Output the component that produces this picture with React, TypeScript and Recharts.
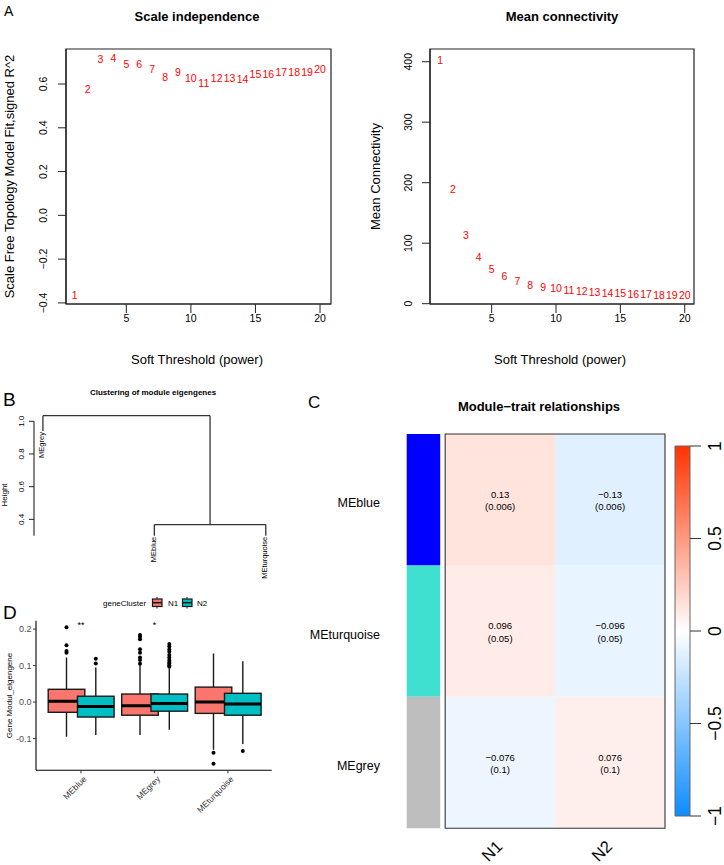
import React from 'react';
import {
  ComposedChart,
  Scatter,
  Bar,
  XAxis,
  YAxis,
  ReferenceArea,
  ReferenceLine,
  ReferenceDot,
} from 'recharts';

const FONT = '"Liberation Sans", Arial, Helvetica, sans-serif';
const INK = '#222';

// ---- Panel A: soft threshold scan ----
const powers = [1, 2, 3, 4, 5, 6, 7, 8, 9, 10, 11, 12, 13, 14, 15, 16, 17, 18, 19, 20];
const scaleFreeR2 = [-0.366, 0.575, 0.714, 0.717, 0.69, 0.691, 0.668, 0.633, 0.654, 0.627, 0.603, 0.627, 0.627, 0.622, 0.647, 0.647, 0.653, 0.654, 0.656, 0.667];
const meanConnectivity = [403, 190, 113, 76, 57, 45, 37, 31, 27.5, 25, 22.6, 21, 19.3, 17.6, 17, 15.4, 14.9, 14.3, 13.8, 13.2];
const powerTicks = [5, 10, 15, 20];
const r2Ticks = [-0.4, -0.2, 0, 0.2, 0.4, 0.6];
const kTicks = [0, 100, 200, 300, 400];

// ---- Panel B: eigengene dendrogram (hclust style merge table) ----
const leafNames = ['MEgrey', 'MEblue', 'MEturquoise'];
const leafHeights = [0.94, 0.3, 0.3];
const mergeLeft = [-2, -1];
const mergeRight = [-3, 1];
const mergeHeights = [0.368, 1.034];
const heightTicks = [0.3, 0.4, 0.5, 0.6, 0.7, 0.8, 0.9, 1.0];

// ---- Panel C: module-trait correlations ----
const traitModules = ['MEblue', 'MEturquoise', 'MEgrey'];
const moduleColors = ['#0000FF', '#40E0D0', '#BEBEBE'];
const traits = ['N1', 'N2'];
const corN1 = [0.13, 0.096, -0.076];
const corN2 = [-0.13, -0.096, 0.076];
const pN1 = ['0.006', '0.05', '0.1'];
const pN2 = ['0.006', '0.05', '0.1'];
const colorbarTicks = [-1, -0.5, 0, 0.5, 1];

// ---- Panel D: eigengene boxplots ----
const boxModules = ['MEblue', 'MEgrey', 'MEturquoise'];
const n1Low = [-0.095, -0.09, -0.131];
const n1Q1 = [-0.028, -0.036, -0.031];
const n1Median = [0.002, -0.01, 0.0];
const n1Q3 = [0.035, 0.022, 0.041];
const n1High = [0.122, 0.101, 0.133];
const n1Outliers = [
  [0.135, 0.14, 0.156, 0.205],
  [0.105, 0.115, 0.122, 0.135, 0.145, 0.172, 0.179, 0.184],
  [-0.139, -0.169],
];
const n2Low = [-0.09, -0.076, -0.115];
const n2Q1 = [-0.041, -0.025, -0.036];
const n2Median = [-0.012, -0.004, -0.005];
const n2Q3 = [0.016, 0.022, 0.024];
const n2High = [0.095, 0.092, 0.112];
const n2Outliers = [
  [0.106, 0.119],
  [0.097, 0.101, 0.106, 0.11, 0.115, 0.122, 0.129, 0.138, 0.144, 0.152, 0.159],
  [-0.134],
];
const sigLabels = ['**', '*', ''];
const boxTicks = [-0.1, 0, 0.1, 0.2];

const N1_FILL = '#F8766D';
const N2_FILL = '#00BFC4';

const rMinus = (s: string) => s.replace('-', '\u2212');

// WGCNA-like blue-white-red
const corColor = (v: number) => {
  const c = (t: number) => Math.round(255 * t);
  if (v >= 0) return `rgb(255,${c(1 - 0.8 * v)},${c(1 - v)})`;
  const a = -v;
  return `rgb(${c(1 - 0.95 * a)},${c(1 - 0.45 * a)},255)`;
};

const scaleData = powers.map((p, i) => ({ power: p, r2: scaleFreeR2[i] }));
const kData = powers.map((p, i) => ({ power: p, k: meanConnectivity[i] }));

const dendroSegments = () => {
  const nodeX: number[] = [];
  const segs: { x: number; y: number }[][] = [];
  const child = (c: number) =>
    c < 0 ? { x: -c, h: leafHeights[-c - 1] } : { x: nodeX[c - 1], h: mergeHeights[c - 1] };
  mergeLeft.forEach((l, i) => {
    const a = child(l);
    const b = child(mergeRight[i]);
    const h = mergeHeights[i];
    segs.push([{ x: a.x, y: a.h }, { x: a.x, y: h }]);
    segs.push([{ x: a.x, y: h }, { x: b.x, y: h }]);
    segs.push([{ x: b.x, y: h }, { x: b.x, y: b.h }]);
    nodeX.push((a.x + b.x) / 2);
  });
  return segs;
};
const leafData = leafNames.map((n, i) => ({ x: i + 1, h: leafHeights[i], name: n }));

const cellData = traitModules.flatMap((m, i) => [
  { x: 0.5, y: 2.5 - i, r: corN1[i], p: pN1[i] },
  { x: 1.5, y: 2.5 - i, r: corN2[i], p: pN2[i] },
]);

const boxData = boxModules.map((m, i) => ({
  module: m,
  n1: [n1Q1[i], n1Q3[i]],
  n2: [n2Q1[i], n2Q3[i]],
  n1Stats: { low: n1Low[i], q1: n1Q1[i], median: n1Median[i], q3: n1Q3[i], high: n1High[i], out: n1Outliers[i] },
  n2Stats: { low: n2Low[i], q1: n2Q1[i], median: n2Median[i], q3: n2Q3[i], high: n2High[i], out: n2Outliers[i] },
}));

const RotTick = (props: any) => {
  const { x, y, payload, dx, fontSize, fmt } = props;
  const px = x + dx;
  return (
    <text x={px} y={y} transform={`rotate(-90 ${px} ${y})`} textAnchor="middle" fontSize={fontSize} fill="#000" fontFamily={FONT}>
      {fmt(payload.value)}
    </text>
  );
};

const PlainXTick = (props: any) => (
  <text x={props.x} y={props.y} dy="0.71em" textAnchor="middle" fontSize={10.5} fill="#000" fontFamily={FONT}>
    {props.payload.value}
  </text>
);

const SlantTick = (props: any) => {
  const { x, y, payload, dx, fontSize, fill, label } = props;
  const px = x + dx;
  return (
    <text x={px} y={y} dy="0.71em" transform={`rotate(-45 ${px} ${y})`} textAnchor="end" fontSize={fontSize} fill={fill} fontFamily={FONT}>
      {label(payload.value)}
    </text>
  );
};

const RedNumber = (p: any) => (
  <text x={p.cx} y={p.cy} dy="0.36em" textAnchor="middle" fill="#FF0000" fontSize={10.5} fontFamily={FONT}>
    {p.payload.power}
  </text>
);

const BoxShape = (props: any) => {
  const { x, y, width, height, payload, group, fill } = props;
  const s = payload[group + 'Stats'];
  const top = Math.min(y, y + height);
  const h = Math.abs(height);
  const per = h / (s.q3 - s.q1);
  const toY = (v: number) => top + (s.q3 - v) * per;
  const cx = x + width / 2;
  return (
    <g>
      <line x1={cx} x2={cx} y1={toY(s.high)} y2={toY(s.q3)} stroke="#1a1a1a" strokeWidth={1.4} />
      <line x1={cx} x2={cx} y1={toY(s.q1)} y2={toY(s.low)} stroke="#1a1a1a" strokeWidth={1.4} />
      <rect x={x} y={top} width={width} height={h} fill={fill} stroke="#1a1a1a" strokeWidth={1.4} />
      <line x1={x} x2={x + width} y1={toY(s.median)} y2={toY(s.median)} stroke="#000" strokeWidth={3} />
      {s.out.map((o: number, k: number) => (
        <circle key={k} cx={cx} cy={toY(o)} r={2} fill="#000" />
      ))}
    </g>
  );
};

// Base-graphics frame: axes, ticks and the plot box (no series in this layer)
const ThresholdFrame = (props: any) => {
  const { data, yKey, xDomain, yDomain, yTicks, yFmt, yWidth, right, tickDx } = props;
  return (
    <ComposedChart width={362} height={370} data={data} margin={{ top: 49, right, bottom: 0, left: 0 }}>
      <XAxis type="number" dataKey="power" domain={xDomain} ticks={powerTicks} allowDataOverflow
        axisLine={{ stroke: INK, strokeWidth: 1.2 }} tickSize={9} tickLine={{ stroke: INK }} tick={PlainXTick} height={66} />
      <YAxis type="number" dataKey={yKey} domain={yDomain} ticks={yTicks} allowDataOverflow
        axisLine={{ stroke: INK, strokeWidth: 1.2 }} width={yWidth} tickSize={8} tickLine={{ stroke: INK }}
        tick={(p: any) => <RotTick {...p} dx={tickDx} fontSize={10.5} fmt={yFmt} />} />
      <ReferenceArea x1={xDomain[0]} x2={xDomain[1]} y1={yDomain[0]} y2={yDomain[1]} fill="none"
        stroke={INK} strokeWidth={1.2} ifOverflow="visible" />
    </ComposedChart>
  );
};

// Red power labels, drawn in a transparent layer with the same plot area
const ThresholdLabels = (props: any) => {
  const { data, yKey, xDomain, yDomain, yWidth, right } = props;
  return (
    <ComposedChart width={362} height={370} margin={{ top: 49, right, bottom: 66, left: yWidth }}>
      <XAxis type="number" dataKey="power" domain={xDomain} allowDataOverflow hide />
      <YAxis type="number" dataKey={yKey} domain={yDomain} allowDataOverflow hide />
      <Scatter data={data} dataKey={yKey} isAnimationActive={false} shape={RedNumber} />
    </ComposedChart>
  );
};

const Dendrogram = () => (
  <ComposedChart width={290} height={215} margin={{ top: 40, right: 15.3, bottom: 45, left: 0 }}>
    <XAxis type="number" dataKey="x" domain={[0.92, 3.08]} hide />
    <YAxis type="number" dataKey="h" domain={[0.2737, 1.069]} ticks={heightTicks} axisLine={false}
      width={34} tickSize={5} tickLine={{ stroke: INK }}
      tick={(p: any) => <RotTick {...p} dx={-2.5} fontSize={8} fmt={(v: number) => v.toFixed(1)} />} />
    <ReferenceLine segment={[{ x: 0.92, y: 0.3 }, { x: 0.92, y: 1.0 }]} stroke={INK} strokeWidth={1.1} ifOverflow="visible" />
    {dendroSegments().map((s, i) => (
      <ReferenceLine key={i} segment={s} stroke="#333" strokeWidth={1.3} ifOverflow="visible" />
    ))}
    <Scatter data={leafData} dataKey="h" isAnimationActive={false}
      shape={(p: any) => (
        <text x={p.cx + 1.5} y={p.cy + 1} transform={`rotate(-90 ${p.cx + 1.5} ${p.cy + 1})`} textAnchor="end"
          fontSize={7.5} fill="#000" fontFamily={FONT}>
          {p.payload.name}
        </text>
      )} />
  </ComposedChart>
);

const TraitHeatmap = () => (
  <ComposedChart width={434} height={495} margin={{ top: 64, right: 59, bottom: 0, left: 0 }}>
    <XAxis type="number" dataKey="x" domain={[-0.35, 2]} ticks={[0.5, 1.5]} allowDataOverflow axisLine={false}
      tickLine={false} tickSize={0} tickMargin={11} height={36.7}
      tick={(p: any) => <SlantTick {...p} dx={-5} fontSize={16.5} fill="#000" label={(v: number) => traits[Math.floor(v)]} />} />
    <YAxis type="number" dataKey="y" domain={[0, 3]} ticks={[0.5, 1.5, 2.5]} allowDataOverflow axisLine={false}
      tickLine={false} tickSize={0} tickMargin={26.7} width={116.7}
      tick={(p: any) => (
        <text x={p.x} y={p.y} dy="0.6em" textAnchor="end" fontSize={12.5} fill="#000" fontFamily={FONT}>
          {traitModules[2 - Math.floor(p.payload.value)]}
        </text>
      )} />
    {traitModules.map((m, i) => (
      <ReferenceArea key={'side' + m} x1={-0.35} x2={-0.045} y1={2 - i} y2={3 - i}
        fill={moduleColors[i]} fillOpacity={1} stroke="none" />
    ))}
    {traitModules.map((m, i) => (
      <ReferenceArea key={'n1' + m} x1={0} x2={1} y1={2 - i} y2={3 - i} fill={corColor(corN1[i])} fillOpacity={1} stroke="none" />
    ))}
    {traitModules.map((m, i) => (
      <ReferenceArea key={'n2' + m} x1={1} x2={2} y1={2 - i} y2={3 - i} fill={corColor(corN2[i])} fillOpacity={1} stroke="none" />
    ))}
    <ReferenceArea x1={0} x2={2} y1={0} y2={3} fill="none" stroke="#333" strokeWidth={1.1} ifOverflow="visible" />
    <Scatter data={cellData} dataKey="y" isAnimationActive={false}
      shape={(p: any) => (
        <g fontFamily={FONT} fontSize={9.5} fill="#000" textAnchor="middle">
          <text x={p.cx} y={p.cy - 2}>{rMinus(String(p.payload.r))}</text>
          <text x={p.cx} y={p.cy + 10.5}>({p.payload.p})</text>
        </g>
      )} />
  </ComposedChart>
);

const ColorBar = () => (
  <ComposedChart width={54} height={420} margin={{ top: 26, right: 0, bottom: 24, left: 5 }}
    data={colorbarTicks.map((v) => ({ x: 0.5, v }))}>
    <defs>
      <linearGradient id="corGrad" x1="0" y1="0" x2="0" y2="1">
        {[...colorbarTicks].reverse().map((v) => (
          <stop key={v} offset={`${((1 - v) / 2) * 100}%`} stopColor={corColor(v)} />
        ))}
      </linearGradient>
    </defs>
    <XAxis type="number" dataKey="x" domain={[0, 1]} allowDataOverflow hide />
    <YAxis type="number" dataKey="v" orientation="right" domain={[-1, 1]} ticks={colorbarTicks} allowDataOverflow
      axisLine={false} width={34} tickSize={11} tickLine={{ stroke: '#333' }}
      tick={(p: any) => <RotTick {...p} dx={18.3} fontSize={17.5} fmt={(v: number) => rMinus(String(v))} />} />
    <ReferenceArea x1={0} x2={1} y1={-1} y2={1} fill="url(#corGrad)" fillOpacity={1} stroke="#666" strokeWidth={1} ifOverflow="visible" />
  </ComposedChart>
);

const EigengeneBoxes = () => (
  <ComposedChart width={290} height={285} data={boxData} margin={{ top: 40.7, right: 18.3, bottom: 0, left: 0 }}
    barSize={36.6} barGap={-7.3}>
    <XAxis dataKey="module" type="category" padding={{ left: 8.2, right: 7 }} height={94.7}
      axisLine={{ stroke: '#000', strokeWidth: 1.1 }} tickLine={{ stroke: '#333' }} tickSize={3} tickMargin={2}
      tick={(p: any) => <SlantTick {...p} dx={2} fontSize={8.5} fill="#333" label={(v: string) => v} />} />
    <YAxis type="number" domain={[-0.187, 0.223]} ticks={boxTicks} allowDataOverflow width={36}
      axisLine={{ stroke: '#000', strokeWidth: 1.1 }} tickLine={{ stroke: '#333' }} tickSize={3} tickMargin={1.5}
      tickFormatter={(v: number) => v.toFixed(1)} tick={{ fontSize: 9, fill: '#4d4d4d', fontFamily: FONT }} />
    <Bar dataKey="n1" fill={N1_FILL} isAnimationActive={false}
      shape={(p: any) => <BoxShape {...p} group="n1" fill={N1_FILL} />} />
    <Bar dataKey="n2" fill={N2_FILL} isAnimationActive={false}
      shape={(p: any) => <BoxShape {...p} group="n2" fill={N2_FILL} />} />
    {boxModules.map((m, i) =>
      sigLabels[i] ? (
        <ReferenceDot key={m} x={m} y={0.217} r={0} ifOverflow="visible"
          shape={(p: any) => (
            <text x={p.cx} y={p.cy + 5} textAnchor="middle" fontSize={9} fill="#000" fontFamily={FONT}>
              {sigLabels[i]}
            </text>
          )} />
      ) : null
    )}
  </ComposedChart>
);

const Overlay = () => (
  <svg width={724} height={865} style={{ position: 'absolute', left: 0, top: 0, pointerEvents: 'none' }} fontFamily={FONT}>
    <text x={4} y={15.5} fontSize={14}>A</text>
    <text x={197} y={21} fontSize={13} fontWeight="bold" textAnchor="middle">Scale independence</text>
    <text x={562} y={21} fontSize={13} fontWeight="bold" textAnchor="middle">Mean connectivity</text>
    <text x={197} y={364} fontSize={13} textAnchor="middle">Soft Threshold (power)</text>
    <text x={560} y={364} fontSize={13} textAnchor="middle">Soft Threshold (power)</text>
    <text x={13.5} y={176.5} fontSize={13} textAnchor="middle" transform="rotate(-90 13.5 176.5)">
      Scale Free Topology Model Fit,signed R^2
    </text>
    <text x={379.5} y={176.5} fontSize={13} textAnchor="middle" transform="rotate(-90 379.5 176.5)">
      Mean Connectivity
    </text>

    <text x={3} y={406} fontSize={19}>B</text>
    <text x={153} y={395} fontSize={8} fontWeight="bold" textAnchor="middle">Clustering of module eigengenes</text>
    <text x={7.4} y={495} fontSize={8} textAnchor="middle" transform="rotate(-90 7.4 495)">Height</text>

    <text x={308} y={408} fontSize={17}>C</text>
    <text x={539} y={411} fontSize={13} fontWeight="bold" textAnchor="middle">{'Module\u2212trait relationships'}</text>

    <text x={3} y={619} fontSize={19}>D</text>
    <text x={11.8} y={695.5} fontSize={8} textAnchor="middle" transform="rotate(-90 11.8 695.5)">Gene Modul_eigengene</text>
    <text x={103} y={605.5} fontSize={8}>geneCluster</text>
    <g stroke="#1a1a1a">
      <line x1={157} x2={157} y1={597} y2={608.5} strokeWidth={1} />
      <rect x={152.5} y={599} width={9.5} height={7.5} fill={N1_FILL} strokeWidth={1.2} />
      <line x1={152.5} x2={162} y1={602.7} y2={602.7} strokeWidth={1.6} />
      <line x1={187} x2={187} y1={597} y2={608.5} strokeWidth={1} />
      <rect x={182.5} y={599} width={9.5} height={7.5} fill={N2_FILL} strokeWidth={1.2} />
      <line x1={182.5} x2={192} y1={602.7} y2={602.7} strokeWidth={1.6} />
    </g>
    <text x={168} y={605.5} fontSize={8}>N1</text>
    <text x={197} y={605.5} fontSize={8}>N2</text>
  </svg>
);

export default function App() {
  const box = (left: number, top: number, child: React.ReactNode) => (
    <div style={{ position: 'absolute', left, top }}>{child}</div>
  );
  const r2Fmt = (v: number) => rMinus(v.toFixed(1));
  const kFmt = (v: number) => String(v);
  return (
    <div style={{ position: 'absolute', left: 0, top: 0, width: 724, height: 865, background: '#fff', fontFamily: FONT }}>
      {box(0, 0, <ThresholdLabels data={scaleData} yKey="r2" xDomain={[0.33, 20.85]} yDomain={[-0.405, 0.76]}
        yWidth={66} right={31} />)}
      {box(362, 0, <ThresholdLabels data={kData} yKey="k" xDomain={[0.21, 20.72]} yDomain={[-0.5, 421]}
        yWidth={68} right={30} />)}
      {box(0, 0, <ThresholdFrame data={scaleData} yKey="r2" xDomain={[0.33, 20.85]} yDomain={[-0.405, 0.76]}
        yTicks={r2Ticks} yFmt={r2Fmt} yWidth={66} right={31} tickDx={-9} />)}
      {box(362, 0, <ThresholdFrame data={kData} yKey="k" xDomain={[0.21, 20.72]} yDomain={[-0.5, 421]}
        yTicks={kTicks} yFmt={kFmt} yWidth={68} right={30} tickDx={-7.5} />)}
      {box(0, 370, <Dendrogram />)}
      {box(290, 370, <TraitHeatmap />)}
      {box(670, 420, <ColorBar />)}
      {box(0, 580, <EigengeneBoxes />)}
      <Overlay />
    </div>
  );
}
